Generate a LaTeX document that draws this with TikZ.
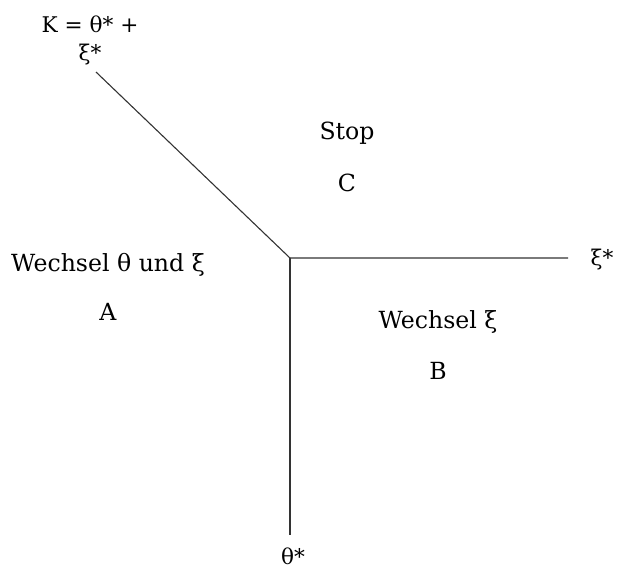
\documentclass[tikz,border=0pt]{standalone}
\usepackage{fontspec}
\setmainfont{DejaVu Serif}
\usepackage{tikz}
\usetikzlibrary{positioning}
\tikzset{
  region/.style={font=\fontsize{11.8}{14}\selectfont,inner sep=1pt},
  axislabel/.style={font=\fontsize{10.8}{12}\selectfont,inner sep=1pt,align=center},
  border/.style={draw=black!80,line width=0.55pt}
}
\begin{document}
\begin{tikzpicture}[x=0.5pt,y=-0.5pt]
  \useasboundingbox (0,0) rectangle (619,570);
  % corner point and line ends
  \coordinate (corner) at (290,258);
  \coordinate (kend) at (96,72);
  \coordinate (xiend) at (568,258);
  \coordinate (thetaend) at (290,535);
  \draw[border] (kend) -- (corner) -- (xiend);
  \draw[border] (corner) -- (thetaend);
  % axis labels
  \node[axislabel] (klabel) at (90,40) {K = θ* +\\[2pt]ξ*};
  \node[axislabel] (xilabel) at (602,260) {ξ*};
  \node[axislabel] (thetalabel) at (293,556) {θ*};
  % regions
  \node[region] (stop) at (347,133) {Stop};
  \node[region] (C) at (347,183) {C};
  \node[region] (wechselA) at (108,265) {Wechsel θ und ξ};
  \node[region] (A) at (108,312) {A};
  \node[region] (wechselB) at (438,322) {Wechsel ξ};
  \node[region] (B) at (438,371) {B};
\end{tikzpicture}
\end{document}
